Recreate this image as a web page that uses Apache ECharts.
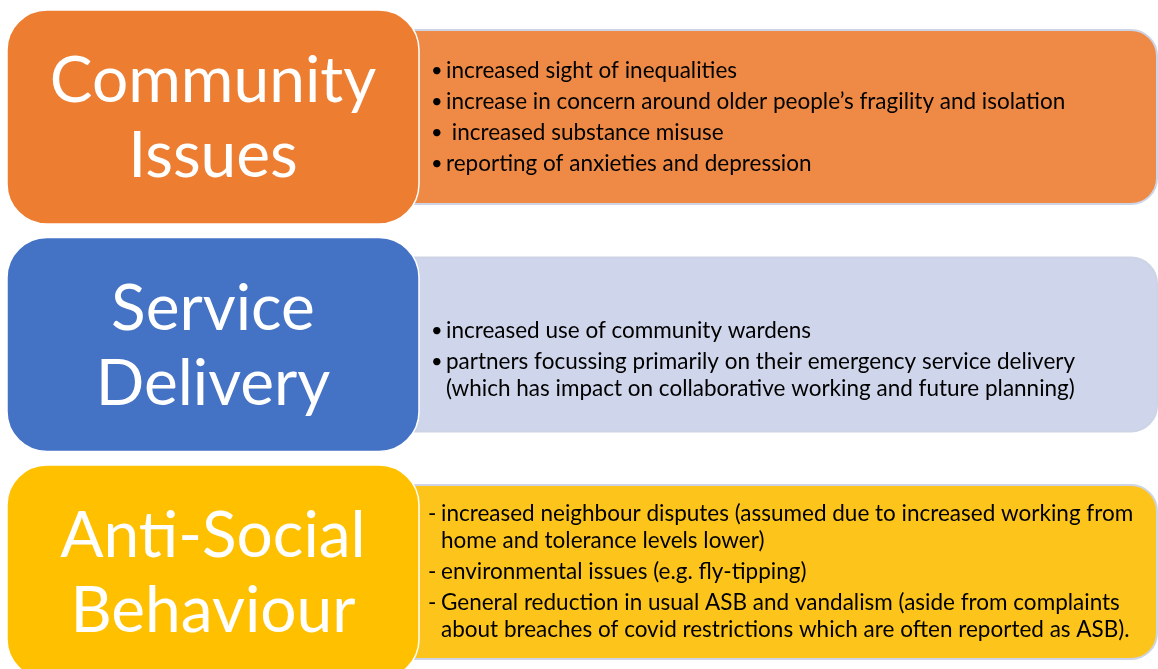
<!DOCTYPE html>
<html><head><meta charset="utf-8">
<script src="https://cdn.jsdelivr.net/npm/echarts@6/dist/echarts.min.js"></script>
<style>html,body{margin:0;padding:0;background:#fff}#c{width:1158px;height:669px}</style>
</head><body><div id="c"></div>
<script>
// ---- data ----
const categories = ['Community Issues', 'Service Delivery', 'Anti-Social Behaviour'];
const titleLines = [['Community', 'Issues'], ['Service', 'Delivery'], ['Anti-Social', 'Behaviour']];
const bulletMarks = ['•', '•', '-'];
const communityIssues = [
  ['increased sight of inequalities'],
  ['increase in concern around older people’s fragility and isolation'],
  [' increased substance misuse'],
  ['reporting of anxieties and depression']
];
const serviceDelivery = [
  [],
  ['increased use of community wardens'],
  ['partners focussing primarily on their emergency service delivery',
   '(which has impact on collaborative working and future planning)']
];
const antiSocialBehaviour = [
  ['increased neighbour disputes (assumed due to increased working from',
   'home and tolerance levels lower)'],
  ['environmental issues (e.g. fly-tipping)'],
  ['General reduction in usual ASB and vandalism (aside from complaints',
   'about breaches of covid restrictions which are often reported as ASB).']
];
const bulletLists = [communityIssues, serviceDelivery, antiSocialBehaviour];

// ---- layout & style ----
const LAYOUT = {
  top: 10, step: 227.5, boxH: 214,
  leftX: 7, leftW: 412, leftR: 40,
  rightX: 400, rightEnd: 1157, rightInset: 20, rightR: 26,
  bulletX: [431, 431, 428], textX: [446, 446, 441],
  paraGap: 31, lineGap: 27, titleGap: 75
};
const STYLE = {
  leftFill: ['#ED7D31', '#4472C4', '#FFC000'],
  rightFill: ['#EF8A46', '#CFD5EA', '#FDC51C'],
  rightStroke: '#CDD4E6',
  titleFont: '64px Lato',
  bodyFont: '22.5px Lato',
  bulletFont: '20px Lato',
  titleColor: '#ffffff',
  bodyColor: '#000000'
};

function renderItem(params, api) {
  const i = params.dataIndex;
  const L = LAYOUT;
  const top = L.top + i * L.step;
  const cy = top + L.boxH / 2;
  const children = [];
  // right detail box
  children.push({
    type: 'rect',
    shape: { x: L.rightX, y: top + L.rightInset, width: L.rightEnd - L.rightX, height: L.boxH - 2 * L.rightInset, r: [0, L.rightR, L.rightR, 0] },
    style: { fill: STYLE.rightFill[i], stroke: STYLE.rightStroke, lineWidth: 2 }
  });
  // text lines in right box
  const lines = [];
  let y = 0, first = true;
  bulletLists[i].forEach(function (para) {
    if (!first) y += L.paraGap;
    first = false;
    if (para.length === 0) { lines.push({ y: y, empty: true }); return; }
    para.forEach(function (t, k) {
      if (k > 0) y += L.lineGap;
      lines.push({ y: y, text: t, bullet: k === 0 });
    });
  });
  const start = cy - y / 2;
  lines.forEach(function (ln) {
    if (ln.empty) return;
    if (ln.bullet) {
      children.push({ type: 'text', style: { text: bulletMarks[i], x: L.bulletX[i], y: start + ln.y, font: bulletMarks[i] === '•' ? STYLE.bulletFont : STYLE.bodyFont, fill: STYLE.bodyColor, align: 'left', verticalAlign: 'middle' } });
    }
    children.push({ type: 'text', style: { text: ln.text, x: L.textX[i], y: start + ln.y, font: STYLE.bodyFont, fill: STYLE.bodyColor, align: 'left', verticalAlign: 'middle' } });
  });
  // left title box
  children.push({
    type: 'rect',
    shape: { x: L.leftX, y: top, width: L.leftW, height: L.boxH, r: L.leftR },
    style: { fill: STYLE.leftFill[i], stroke: '#ffffff', lineWidth: 1.5 }
  });
  const tl = titleLines[i];
  tl.forEach(function (t, k) {
    children.push({ type: 'text', style: { text: t, x: L.leftX + L.leftW / 2, y: cy + 2 + (k - (tl.length - 1) / 2) * L.titleGap, font: STYLE.titleFont, fill: STYLE.titleColor, align: 'center', verticalAlign: 'middle' } });
  });
  return { type: 'group', children: children };
}

const chart = echarts.init(document.getElementById('c'), null, { renderer: 'canvas' });
chart.setOption({
  animation: false,
  backgroundColor: '#ffffff',
  series: [{
    type: 'custom',
    coordinateSystem: 'none',
    name: 'Impacts',
    data: categories.map(function (c, i) { return { name: c, value: i }; }),
    renderItem: renderItem
  }]
});
</script>
</body></html>
